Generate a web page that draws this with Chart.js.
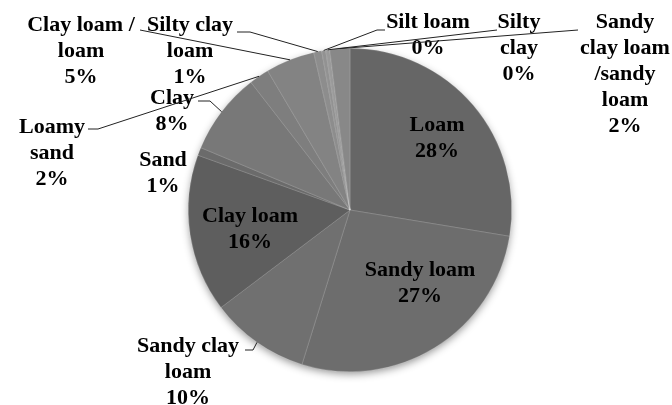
<!DOCTYPE html>
<html>
<head>
<meta charset="utf-8">
<script src="https://cdn.jsdelivr.net/npm/chart.js@4.4.1/dist/chart.umd.min.js"></script>
<style>
  html, body { margin: 0; background: #fff; }
  #wrap { width: 672px; height: 405px; position: relative; }
</style>
</head>
<body>
<div id="wrap"><canvas id="soilChart"></canvas></div>
<script>
// soil texture classes, clockwise from 12 o'clock
const soilTypes = [
    'Loam', 'Sandy loam', 'Sandy clay loam', 'Clay loam', 'Sand', 'Clay',
    'Loamy sand', 'Clay loam / loam', 'Silty clay loam', 'Silt loam',
    'Silty clay', 'Sandy clay loam /sandy loam'
];
// share of samples (%)
const shares = [27.6, 27.2, 9.9, 15.8, 0.8, 8.2, 2.0, 4.9, 0.8, 0.4, 0.4, 2.0];
const sliceColors = [
    '#666666', '#6d6d6d', '#707070', '#5e5e5e', '#6b6b6b', '#787878',
    '#7e7e7e', '#838383', '#8d8d8d', '#929292', '#9a9a9a', '#888888'
];

// how each label is broken into lines, where it sits, and its leader path
const labelLayout = [
    { lines: ['Loam'], x: 437, y: 125, leader: null },
    { lines: ['Sandy loam'], x: 420, y: 270, leader: null },
    { lines: ['Sandy clay', 'loam'], x: 188, y: 346, leader: [[245, 350], [253, 350]] },
    { lines: ['Clay loam'], x: 250, y: 216, leader: null },
    { lines: ['Sand'], x: 163, y: 160, leader: null },
    { lines: ['Clay'], x: 172, y: 98, leader: [[198, 101], [210, 101]] },
    { lines: ['Loamy', 'sand'], x: 52, y: 127, leader: [[88, 129], [98, 129]] },
    { lines: ['Clay loam /', 'loam'], x: 81, y: 25, leader: [[140, 30]] },
    { lines: ['Silty clay', 'loam'], x: 190, y: 25, leader: [[237, 32], [250, 32]] },
    { lines: ['Silt loam'], x: 428, y: 22, leader: [[385, 30], [377, 30]] },
    { lines: ['Silty', 'clay'], x: 519, y: 22, leader: [[497, 30]] },
    { lines: ['Sandy', 'clay loam', '/sandy', 'loam'], x: 625, y: 22, leader: [[578, 30]] }
];

const total = shares.reduce((a, b) => a + b, 0);
const fontFamily = '"Liberation Serif", "Times New Roman", "DejaVu Serif", "Noto Serif", serif';

// soft drop shadow under the whole pie
const pieShadow = {
    id: 'pieShadow',
    beforeDatasetsDraw(chart) {
        const arc = chart.getDatasetMeta(0).data[0];
        if (!arc) return;
        const ctx = chart.ctx;
        ctx.save();
        ctx.shadowColor = 'rgba(0,0,0,0.45)';
        ctx.shadowBlur = 8;
        ctx.shadowOffsetY = 3;
        ctx.fillStyle = '#666';
        ctx.beginPath();
        ctx.arc(arc.x, arc.y, arc.outerRadius - 1, 0, Math.PI * 2);
        ctx.fill();
        ctx.restore();
    }
};

// data labels with leader lines
const sliceLabels = {
    id: 'sliceLabels',
    afterDatasetsDraw(chart) {
        const ctx = chart.ctx;
        const arcs = chart.getDatasetMeta(0).data;
        ctx.save();
        // size the font so "Sandy loam" spans about 113px
        ctx.font = 'bold 22px ' + fontFamily;
        const size = Math.min(22, 22 * 113 / ctx.measureText('Sandy loam').width);
        ctx.font = 'bold ' + size.toFixed(1) + 'px ' + fontFamily;
        ctx.textAlign = 'center';
        ctx.textBaseline = 'middle';
        arcs.forEach((arc, i) => {
            const lay = labelLayout[i];
            if (lay.leader) {
                const mid = (arc.startAngle + arc.endAngle) / 2;
                const ex = arc.x + Math.cos(mid) * arc.outerRadius;
                const ey = arc.y + Math.sin(mid) * arc.outerRadius;
                ctx.strokeStyle = '#222';
                ctx.lineWidth = 1;
                ctx.beginPath();
                ctx.moveTo(lay.leader[0][0], lay.leader[0][1]);
                lay.leader.slice(1).forEach(p => ctx.lineTo(p[0], p[1]));
                ctx.lineTo(ex, ey);
                ctx.stroke();
            }
            const pct = Math.round(shares[i] / total * 100) + '%';
            const lines = lay.lines.concat([pct]);
            ctx.fillStyle = '#000';
            lines.forEach((t, k) => ctx.fillText(t, lay.x, lay.y + k * 26));
        });
        ctx.restore();
    }
};

const ctx = document.getElementById('soilChart').getContext('2d');
const soilChart = new Chart(ctx, {
    type: 'pie',
    data: {
        labels: soilTypes,
        datasets: [{
            data: shares,
            backgroundColor: sliceColors,
            borderColor: 'rgba(255,255,255,0.25)',
            borderWidth: 0.6
        }]
    },
    options: {
        responsive: true,
        maintainAspectRatio: false,
        animation: false,
        layout: { padding: { top: 48, bottom: 33, left: 28, right: 0 } },
        plugins: {
            legend: { display: false },
            tooltip: { enabled: false }
        }
    },
    plugins: [pieShadow, sliceLabels]
});
</script>
</body>
</html>
